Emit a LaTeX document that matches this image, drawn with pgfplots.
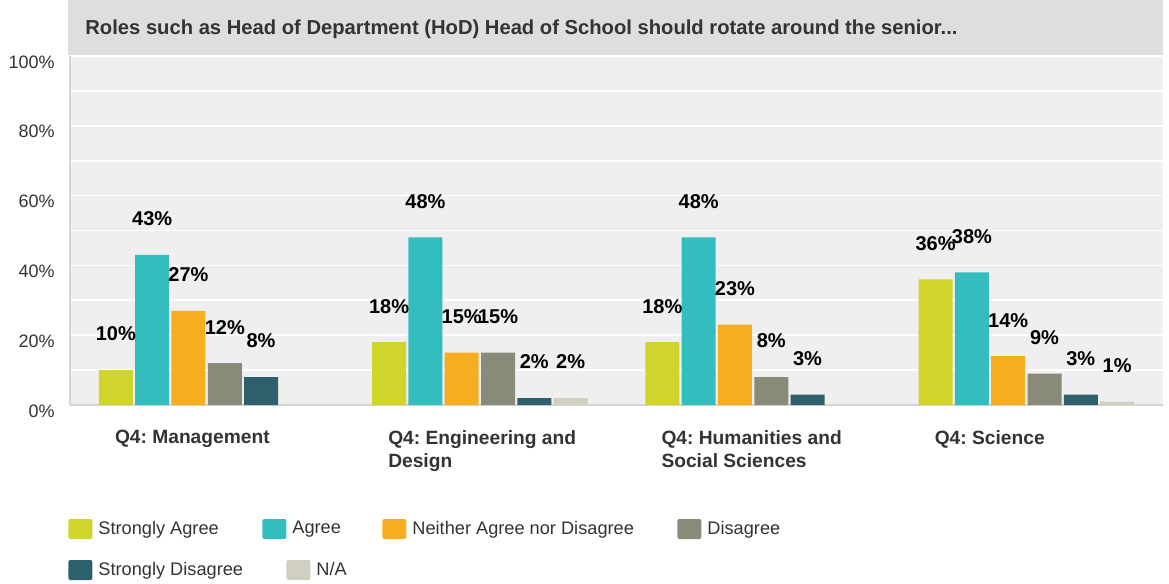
\documentclass[border=0pt]{standalone}
\usepackage{fontspec}
\setmainfont{Liberation Sans}
\usepackage{pgfplots}
\pgfplotsset{compat=1.18}
\frenchspacing
\definecolor{csa}{HTML}{CFD52A}
\definecolor{cag}{HTML}{33BDBF}
\definecolor{cne}{HTML}{F6AE20}
\definecolor{cdi}{HTML}{8A8A78}
\definecolor{csd}{HTML}{2E5F6D}
\definecolor{cna}{HTML}{D0CFC0}
\definecolor{cbg}{HTML}{EFEFEF}
\definecolor{cband}{HTML}{DEDEDE}
\definecolor{caxis}{HTML}{D5D5D5}
\definecolor{ctext}{HTML}{333333}
\pgfplotsset{sq/.style={legend image code/.code={\path[##1,draw=none,rounded corners=1pt] (0pt,-5pt) rectangle (12pt,5pt);}}}
\begin{document}
\begin{tikzpicture}
\path (0,0) rectangle (584.5pt,292pt);
\fill[cband] (34pt,264.5pt) rectangle (581.5pt,292pt);
\node[anchor=west, font=\bfseries\fontsize{10.1}{12}\selectfont, text=ctext, inner sep=0pt] at (42.5pt,277.5pt) {Roles such as Head of Department (HoD) Head of School should rotate around the senior...};
\begin{axis}[
 at={(35pt,89.5pt)}, anchor=south west, width=546.5pt, height=174.5pt, scale only axis,
 xmin=-0.5, xmax=3.5, ymin=0, ymax=100,
 ybar=1.15pt, bar width=17pt,
 axis background/.style={fill=cbg},
 axis x line*=bottom, axis y line*=left,
 x axis line style={-, draw=caxis, line width=1pt},
 y axis line style={-, draw=caxis, line width=1.25pt},
 ytick={0,20,40,60,80,100},
 yticklabels={0\%,20\%,40\%,60\%,80\%,100\%},
 minor ytick={10,30,50,70,90},
 ymajorgrids, yminorgrids,
 major grid style={white, line width=0.9pt},
 minor grid style={white, line width=0.9pt},
 major tick length=0pt, minor tick length=0pt,
 yticklabel style={font=\fontsize{9}{10}\selectfont, text=ctext, inner sep=0pt, anchor=east, xshift=-7.5pt, yshift=-3pt},
 xtick={0,1,2,3},
 xticklabels={Q4: Management, {Q4: Engineering and\\Design}, {Q4: Humanities and\\Social Sciences}, Q4: Science},
 xticklabel style={font=\bfseries\fontsize{9.6}{11.5}\selectfont, text=ctext, align=left, anchor=north west, xshift=-46pt, yshift=-12.5pt, inner sep=0pt},
 /pgf/number format/assume math mode=true,
 nodes near coords={\pgfmathprintnumber{\pgfplotspointmeta}\%},
 every node near coord/.append style={font=\bfseries\fontsize{10}{11}\selectfont, text=black, anchor=center, yshift=18pt},
 legend columns=4,
 legend style={at={(-0.0018,-0.3553)}, anchor=west, draw=none, fill=none, inner sep=0pt, column sep=0pt, row sep=0pt, font=\fontsize{9.1}{10}\selectfont, text=ctext, nodes={inner sep=0pt, anchor=west}},
]
\addplot[sq, fill=csa, draw=none] coordinates {(0,10) (1,18) (2,18) (3,36)};
\addlegendentry{\makebox[85pt][l]{\hspace{3pt}Strongly Agree}}
\addplot[sq, fill=cag, draw=none] coordinates {(0,43) (1,48) (2,48) (3,38)};
\addlegendentry{\makebox[48pt][l]{\hspace{3pt}Agree}}
\addplot[sq, fill=cne, draw=none] coordinates {(0,27) (1,15) (2,23) (3,14)};
\addlegendentry{\makebox[135.5pt][l]{\hspace{3pt}Neither Agree nor Disagree}}
\addplot[sq, fill=cdi, draw=none] coordinates {(0,12) (1,15) (2,8) (3,9)};
\addlegendentry{\makebox[40pt][l]{\hspace{3pt}Disagree}}
\addplot[sq, fill=csd, draw=none] coordinates {(0,8) (1,2) (2,3) (3,3)};
\addplot[sq, fill=cna, draw=none] coordinates {(1,2) (3,1)};
\end{axis}
\begin{axis}[
 at={(35pt,89.5pt)}, anchor=south west, width=546.5pt, height=174.5pt, scale only axis,
 hide axis, xmin=0, xmax=1, ymin=0, ymax=1,
 legend columns=2,
 legend style={at={(-0.0018,-0.4728)}, anchor=west, draw=none, fill=none, inner sep=0pt, column sep=0pt, row sep=0pt, font=\fontsize{9.1}{10}\selectfont, text=ctext, nodes={inner sep=0pt, anchor=west}},
]
\addlegendimage{sq, fill=csd, draw=none}
\addlegendentry{\makebox[97pt][l]{\hspace{3pt}Strongly Disagree}}
\addlegendimage{sq, fill=cna, draw=none}
\addlegendentry{\makebox[20pt][l]{\hspace{3pt}N/A}}
\end{axis}
\end{tikzpicture}
\end{document}
